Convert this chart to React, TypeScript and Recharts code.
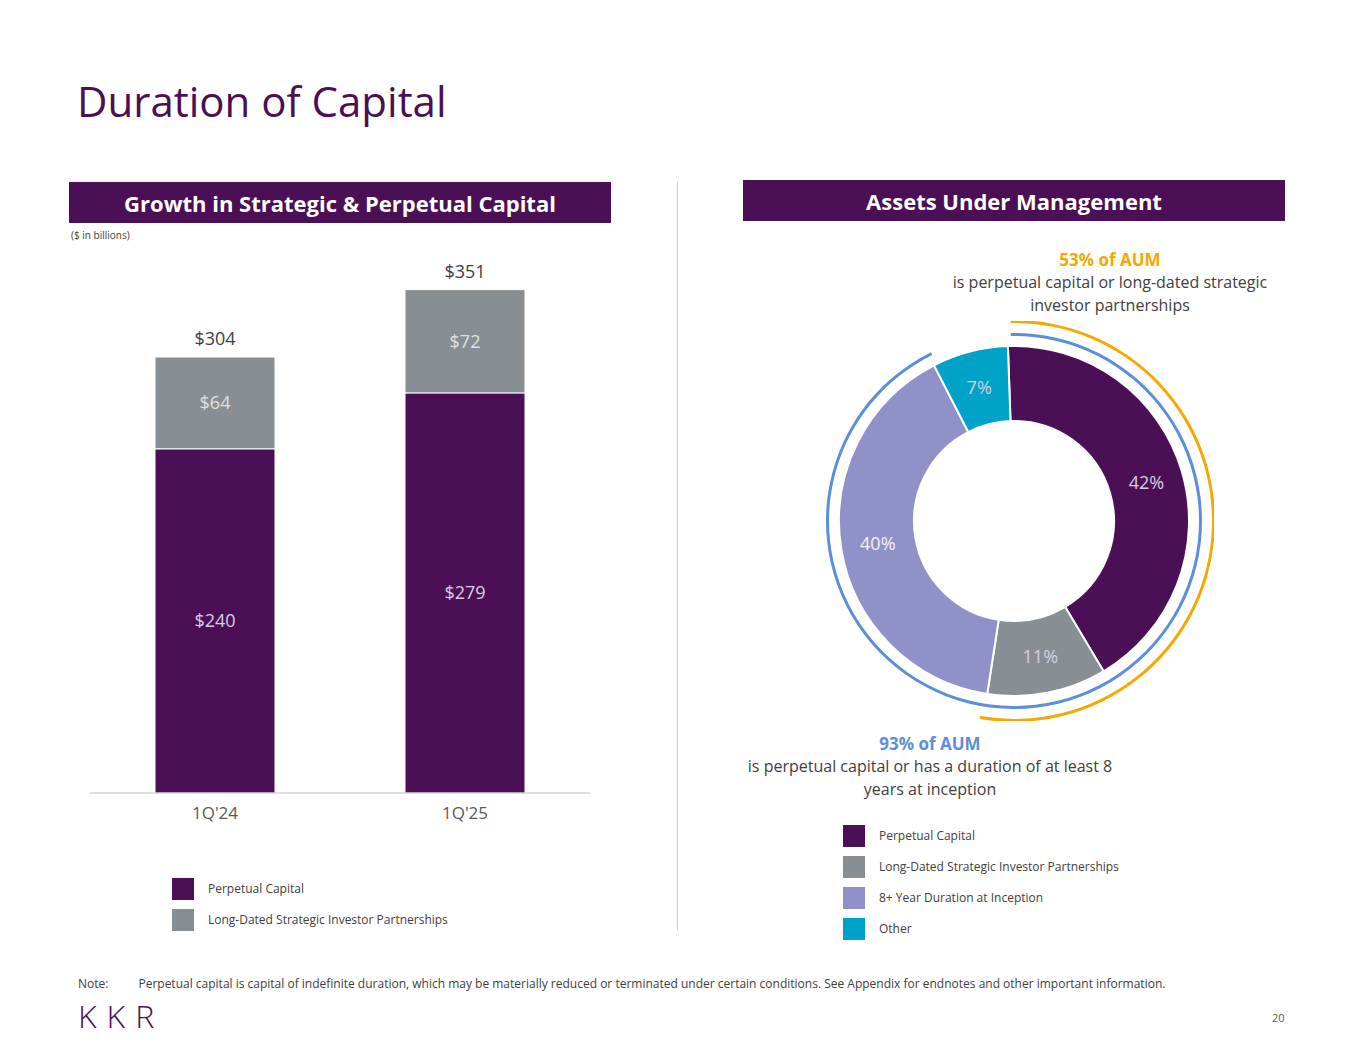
import { BarChart, Bar, XAxis, YAxis, LabelList, PieChart, Pie, Cell } from "recharts";

const periods = ["1Q'24", "1Q'25"];
const perpetual = [240, 279];
const longDated = [64, 72];
const totals = [304, 351];

const aumNames = ["Perpetual Capital", "Long-Dated Strategic Investor Partnerships", "8+ Year Duration at Inception", "Other"];
const aumShares = [42, 11, 40, 7];

const PURPLE = "#4a0f55";
const GRAY = "#878f94";
const LAVENDER = "#9191c9";
const TEAL = "#00a3c7";
const ORANGE = "#f5a800";
const BLUE = "#5b8fd9";
const FONT = "'Open Sans', sans-serif";

const barData = periods.map((p, i) => ({ period: p, perpetual: perpetual[i], longDated: longDated[i], total: totals[i] }));
const pieData = aumNames.map((n, i) => ({ name: n, value: aumShares[i] }));
const pieColors = [PURPLE, GRAY, LAVENDER, TEAL];

const money = (v: number) => `$${v}`;

function Header({ left, top, text }: { left: number; top: number; text: string }) {
  return (
    <div style={{ position: "absolute", left, top, width: 542, height: 41, background: PURPLE, color: "#fff", fontWeight: 700, fontSize: 22, display: "flex", alignItems: "center", justifyContent: "center" }}>
      {text}
    </div>
  );
}

function Legend({ left, top, items }: { left: number; top: number; items: Array<[string, string]> }) {
  return (
    <div style={{ position: "absolute", left, top }}>
      {items.map(([c, n]) => (
        <div key={n} style={{ display: "flex", alignItems: "center", height: 31 }}>
          <div style={{ width: 22, height: 22, background: c, marginRight: 14 }} />
          <span style={{ fontSize: 12, color: "#404040" }}>{n}</span>
        </div>
      ))}
    </div>
  );
}

// eslint-disable-next-line @typescript-eslint/no-explicit-any
function PieLabel({ cx, cy, midAngle, index }: any) {
  const r = 138;
  const rad = (Math.PI / 180) * midAngle;
  return (
    <text x={cx + r * Math.cos(rad)} y={cy - r * Math.sin(rad)} textAnchor="middle" dominantBaseline="central" fill={index === 2 ? "#f2f2f2" : "#d6cfe0"} fontSize={18} fontFamily={FONT}>
      {aumShares[index]}%
    </text>
  );
}

export default function App() {
  return (
    <div style={{ position: "absolute", left: 0, top: 0, width: 1365, height: 1055, background: "#fff", fontFamily: FONT, overflow: "hidden" }}>
      <div style={{ position: "absolute", left: 77, top: 72, fontSize: 42, color: PURPLE }}>Duration of Capital</div>
      <Header left={69} top={182} text="Growth in Strategic & Perpetual Capital" />
      <Header left={743} top={180} text="Assets Under Management" />
      <div style={{ position: "absolute", left: 71, top: 228, fontSize: 10, color: "#404040" }}>($ in billions)</div>
      <div style={{ position: "absolute", left: 677, top: 182, width: 1, height: 748, background: "#d0d0d0" }} />

      <div style={{ position: "absolute", left: 90, top: 240 }}>
        <BarChart width={500} height={600} data={barData} margin={{ top: 0, right: 0, left: 0, bottom: 0 }} barCategoryGap={65}>
          <XAxis dataKey="period" height={47} tickLine={false} axisLine={{ stroke: "#bfbfbf" }} tick={{ fontSize: 17, fill: "#595959", fontFamily: FONT }} tickMargin={8} />
          <YAxis hide domain={[0, 385.6]} />
          <Bar dataKey="perpetual" stackId="a" fill={PURPLE} stroke="#fff" strokeWidth={1} isAnimationActive={false}>
            <LabelList dataKey="perpetual" position="center" formatter={money} fill="#d6cfe0" fontSize={18} fontFamily={FONT} />
          </Bar>
          <Bar dataKey="longDated" stackId="a" fill={GRAY} stroke="#fff" strokeWidth={1} isAnimationActive={false}>
            <LabelList dataKey="longDated" position="center" formatter={money} fill="#e0e0e0" fontSize={18} fontFamily={FONT} />
            <LabelList dataKey="total" position="top" offset={12} formatter={money} fill="#404040" fontSize={18} fontFamily={FONT} />
          </Bar>
        </BarChart>
      </div>
      <Legend left={172} top={873} items={[[PURPLE, "Perpetual Capital"], [GRAY, "Long-Dated Strategic Investor Partnerships"]]} />

      <div style={{ position: "absolute", left: 814, top: 321 }}>
        <PieChart width={400} height={400} margin={{ top: 0, right: 0, bottom: 0, left: 0 }}>
          <Pie data={[{ v: 53 }, { v: 47 }]} dataKey="v" cx={200} cy={200} innerRadius={198} outerRadius={201} startAngle={91} endAngle={-269} stroke="none" isAnimationActive={false}>
            <Cell fill={ORANGE} />
            <Cell fill="transparent" />
          </Pie>
          <Pie data={[{ v: 93 }, { v: 7 }]} dataKey="v" cx={200} cy={200} innerRadius={185} outerRadius={188} startAngle={91} endAngle={-269} stroke="none" isAnimationActive={false}>
            <Cell fill={BLUE} />
            <Cell fill="transparent" />
          </Pie>
          <Pie data={pieData} dataKey="value" cx={200} cy={200} innerRadius={100} outerRadius={175} startAngle={92} endAngle={-268} stroke="#fff" strokeWidth={2} label={PieLabel} labelLine={false} isAnimationActive={false}>
            {pieData.map((d, i) => <Cell key={d.name} fill={pieColors[i]} />)}
          </Pie>
        </PieChart>
      </div>

      <div style={{ position: "absolute", left: 900, top: 248, width: 420, textAlign: "center", fontSize: 16, color: "#404040", lineHeight: "23px" }}>
        <div style={{ color: ORANGE, fontWeight: 700, fontSize: 17 }}>53% of AUM</div>
        is perpetual capital or long-dated strategic<br />investor partnerships
      </div>
      <div style={{ position: "absolute", left: 720, top: 732, width: 420, textAlign: "center", fontSize: 16, color: "#404040", lineHeight: "23px" }}>
        <div style={{ color: BLUE, fontWeight: 700, fontSize: 17 }}>93% of AUM</div>
        is perpetual capital or has a duration of at least 8<br />years at inception
      </div>
      <Legend left={843} top={820} items={aumNames.map((n, i) => [pieColors[i], n] as [string, string])} />

      <div style={{ position: "absolute", left: 78, top: 975, fontSize: 12, color: "#404040" }}>
        Note:<span style={{ marginLeft: 30 }}>Perpetual capital is capital of indefinite duration, which may be materially reduced or terminated under certain conditions. See Appendix for endnotes and other important information.</span>
      </div>
      <div style={{ position: "absolute", left: 78, top: 994, fontSize: 32, letterSpacing: 10, color: PURPLE, fontWeight: 300 }}>KKR</div>
      <div style={{ position: "absolute", left: 1272, top: 1010, fontSize: 11, color: "#595959" }}>20</div>
    </div>
  );
}
